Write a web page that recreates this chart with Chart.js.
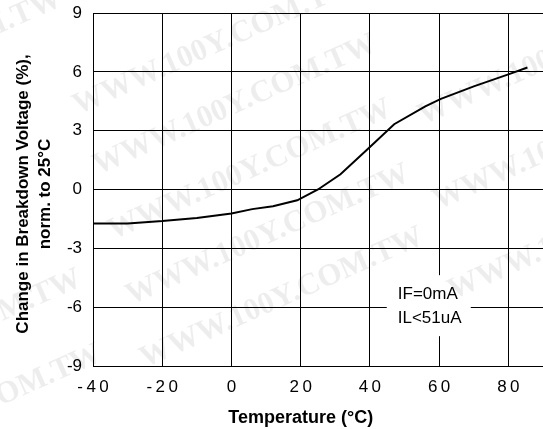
<!DOCTYPE html>
<html>
<head>
<meta charset="utf-8">
<script src="https://cdn.jsdelivr.net/npm/chart.js@4/dist/chart.umd.min.js"></script>
<style>
  body { margin: 0; background: #fff; }
</style>
</head>
<body>
<canvas id="myChart" width="543" height="429"></canvas>
<script>
// breakdown voltage drift vs temperature, normalised to 25 C
var temps  = [-40, -30, -20, -10, 0, 6, 12, 19, 25, 31.5, 40, 47, 56, 60.5, 70, 80, 85.5];
var change = [-1.73, -1.73, -1.61, -1.45, -1.22, -1.0, -0.85, -0.55, 0, 0.78, 2.17, 3.33, 4.24, 4.62, 5.26, 5.87, 6.22];

var xTicks = [-40, -20, 0, 20, 40, 60, 80];
var yTicks = [-9, -6, -3, 0, 3, 6, 9];

var xTitle = 'Temperature (\u00B0C)';
var yTitle = ['Change in Breakdown Voltage (%),', 'norm. to 25\u00B0C'];
var note = ['IF=0mA', 'IL<51uA'];
var noteAt = {x: 57, y: -6};
var mark = 'WWW.100Y.COM.TW';

var sans = 'Arial, "Liberation Sans", sans-serif';

var titles = {
  id: 'titles',
  afterDatasetsDraw: function(chart) {
    var ctx = chart.ctx;
    var xs = chart.scales.x, ys = chart.scales.y;

    // condition box
    var cx = xs.getPixelForValue(noteAt.x), cy = ys.getPixelForValue(noteAt.y);
    ctx.save();
    ctx.fillStyle = '#fff';
    ctx.fillRect(cx - 42, cy - 32, 84, 61);
    ctx.fillStyle = '#000';
    ctx.font = '17px ' + sans;
    ctx.textAlign = 'left';
    ctx.textBaseline = 'alphabetic';
    ctx.fillText(note[0], cx - 31, cy - 8);
    ctx.fillText(note[1], cx - 31, cy + 16);
    ctx.restore();
  },
  afterDraw: function(chart) {
    var ctx = chart.ctx;
    var xs = chart.scales.x;

    ctx.save();
    ctx.fillStyle = '#000';
    ctx.font = 'bold 18px ' + sans;
    ctx.textAlign = 'center';
    ctx.textBaseline = 'alphabetic';
    var mid = (xs.getPixelForValue(xTicks[0]) + xs.getPixelForValue(xTicks[xTicks.length - 1])) / 2;
    ctx.fillText(xTitle, mid, 423);

    ctx.font = 'bold 17px ' + sans;
    ctx.translate(28, 194);
    ctx.rotate(-Math.PI / 2);
    ctx.fillText(yTitle[0], 0, 0);
    ctx.fillText(yTitle[1], 0, 22);
    ctx.restore();

    // faint site stamp across the sheet
    var spots = [[215, 45], [235, 105], [250, 170], [268, 235], [282, 298],
                 [560, 55], [575, 140], [590, 230], [-60, 340], [-40, 415], [-80, 60]];
    ctx.save();
    ctx.fillStyle = 'rgba(0,0,0,0.07)';
    ctx.font = 'bold 31px "Liberation Serif", "DejaVu Serif", serif';
    ctx.textAlign = 'center';
    ctx.textBaseline = 'middle';
    spots.forEach(function(p) {
      ctx.save();
      ctx.translate(p[0], p[1]);
      ctx.rotate(-24 * Math.PI / 180);
      ctx.fillText(mark, 0, 0);
      ctx.restore();
    });
    ctx.restore();
  }
};

function spaced(v) {
  return String(v).split('').join('\u2009');
}

var ctx = document.getElementById('myChart').getContext('2d');
var myChart = new Chart(ctx, {
  type: 'line',
  data: {
    datasets: [{
      data: temps.map(function(t, i) { return {x: t, y: change[i]}; }),
      borderColor: '#000',
      borderWidth: 2,
      pointRadius: 0,
      tension: 0,
      fill: false
    }]
  },
  options: {
    responsive: false,
    animation: false,
    layout: { padding: { top: 13, right: 0, bottom: 0, left: 0 } },
    plugins: { legend: { display: false }, tooltip: { enabled: false } },
    scales: {
      x: {
        type: 'linear',
        min: -40,
        max: 90,
        afterBuildTicks: function(s) {
          s.ticks = xTicks.map(function(v) { return {value: v}; });
        },
        afterFit: function(s) {
          s.height = 63;
          s.paddingLeft = 0;
          s.paddingRight = 0;
        },
        grid: { color: '#000', lineWidth: 1, drawTicks: false },
        border: { display: true, color: '#000', width: 1 },
        ticks: {
          color: '#000',
          font: { family: sans, size: 17 },
          padding: 11,
          maxRotation: 0,
          callback: function(v) { return spaced(v); }
        }
      },
      y: {
        min: -9,
        max: 9,
        afterBuildTicks: function(s) {
          s.ticks = yTicks.map(function(v) { return {value: v}; });
        },
        afterFit: function(s) {
          s.width = 93;
          s.paddingTop = 0;
          s.paddingBottom = 0;
        },
        grid: { color: '#000', lineWidth: 1, drawTicks: false },
        border: { display: true, color: '#000', width: 1 },
        ticks: {
          color: '#000',
          font: { family: sans, size: 17 },
          padding: 11
        }
      }
    }
  },
  plugins: [titles]
});
</script>
</body>
</html>
